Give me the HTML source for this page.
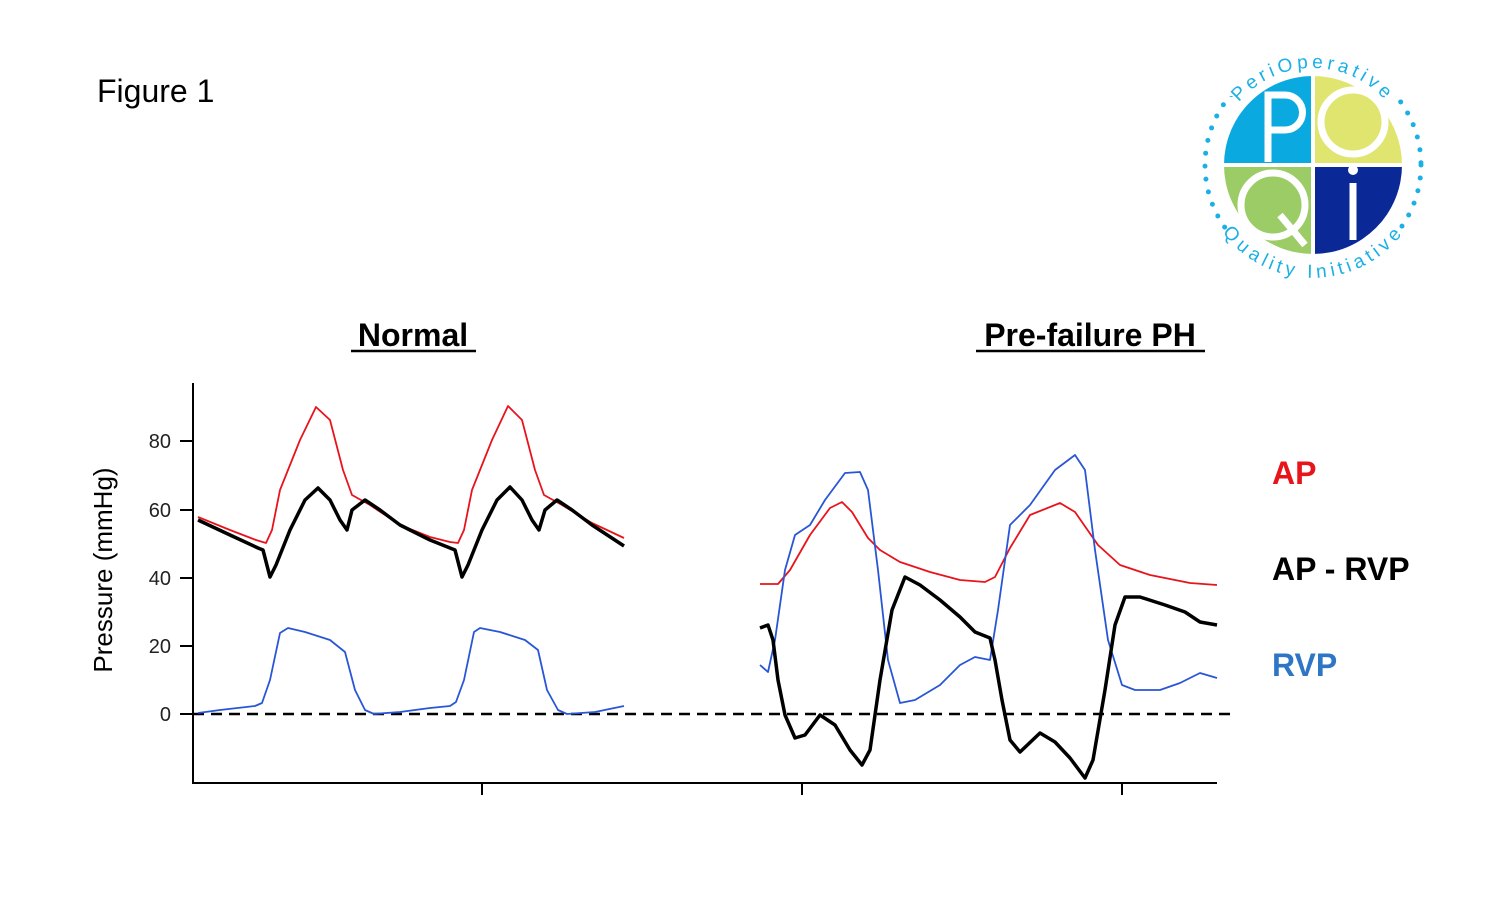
<!DOCTYPE html>
<html><head><style>
body{margin:0;background:#fff;}
svg{display:block}
</style></head><body>
<svg width="1500" height="913" viewBox="0 0 1500 913" xmlns="http://www.w3.org/2000/svg" font-family="Liberation Sans, sans-serif">
<rect width="1500" height="913" fill="#fff"/>
<text x="97" y="102" font-size="32" fill="#000">Figure 1</text>

<!-- logo -->
<g>
<defs>
<clipPath id="cc"><circle cx="1313" cy="165" r="89"/></clipPath>
<path id="arcTop" d="M1216,165 A97,97 0 0 1 1410,165"/>
<path id="arcBot" d="M1213,165 A100,100 0 0 0 1413,165"/>
</defs>
<circle cx="1313" cy="165" r="108" fill="none" stroke="#1ab0e6" stroke-width="5" stroke-dasharray="0 13" stroke-linecap="round"/>
<rect x="1195" y="40" width="240" height="56" fill="#fff"/>
<rect x="1195" y="234" width="240" height="60" fill="#fff"/>
<g clip-path="url(#cc)">
<rect x="1222" y="74" width="89" height="89" fill="#0aa9df"/>
<rect x="1315" y="74" width="89" height="89" fill="#e0e56f"/>
<rect x="1222" y="167" width="89" height="89" fill="#9ccc65"/>
<rect x="1315" y="167" width="89" height="89" fill="#0a2896"/>
</g>
<g fill="none" stroke="#fff" stroke-width="7">
<path d="M1268,162 V95 H1285 A17,17 0 0 1 1285,130 H1268"/>
<circle cx="1353" cy="122" r="32"/>
<circle cx="1273" cy="205" r="32"/>
<path d="M1280,215 L1305,245"/>
<path d="M1353,183 V240"/>
</g>
<circle cx="1353" cy="170" r="5" fill="#fff"/>
<text font-size="19" fill="#1ab0e6" letter-spacing="4"><textPath href="#arcTop" startOffset="50%" text-anchor="middle">PeriOperative</textPath></text>
<text font-size="19" fill="#1ab0e6" letter-spacing="3"><textPath href="#arcBot" startOffset="50%" text-anchor="middle" dominant-baseline="hanging">Quality Initiative</textPath></text>
</g>

<!-- titles -->
<text x="413" y="346" font-size="32" font-weight="bold" text-anchor="middle">Normal</text>
<line x1="351" y1="351" x2="476" y2="351" stroke="#000" stroke-width="2.5"/>
<text x="1090" y="346" font-size="32" font-weight="bold" text-anchor="middle">Pre-failure PH</text>
<line x1="976" y1="351" x2="1205" y2="351" stroke="#000" stroke-width="2.5"/>

<!-- legend -->
<text x="1272" y="484" font-size="32" font-weight="bold" fill="#e8141b">AP</text>
<text x="1272" y="580" font-size="32" font-weight="bold" fill="#000">AP - RVP</text>
<text x="1272" y="676" font-size="32" font-weight="bold" fill="#2e75c6">RVP</text>

<!-- axes -->
<g stroke="#000" stroke-width="2" fill="none">
<path d="M193,383 V783 H1217"/>
<path d="M482,783 V795 M802,783 V795 M1122,783 V795"/>
<path d="M180,441 H193 M180,510 H193 M180,578 H193 M180,646 H193 M180,714 H193"/>
</g>
<g font-size="20" text-anchor="end" fill="#222">
<text x="171" y="448">80</text>
<text x="171" y="517">60</text>
<text x="171" y="585">40</text>
<text x="171" y="653">20</text>
<text x="171" y="721">0</text>
</g>
<text transform="translate(112,570) rotate(-90)" font-size="26" text-anchor="middle">Pressure (mmHg)</text>
<line x1="193" y1="714" x2="1230" y2="714" stroke="#000" stroke-width="2.5" stroke-dasharray="11 7"/>

<!-- Normal -->
<polyline fill="none" stroke="#e8141b" stroke-width="1.8" stroke-linejoin="round" points="198,517 230,530 256,540 266,543 272,530 280,490 300,440 316,407 330,420 343,470 352,495 370,505 400,525 430,537 450,542 458,543 464,530 472,490 492,440 508,406 522,420 535,470 544,495 562,505 592,523 624,538"/>
<polyline fill="none" stroke="#000" stroke-width="3.5" stroke-linejoin="round" points="198,520 230,535 258,548 263,550 270,577 276,565 290,530 305,500 318,488 330,500 340,520 347,530 352,510 365,500 380,510 400,525 430,540 450,548 455,550 462,577 468,565 482,530 497,500 510,487 522,500 532,520 539,530 545,510 557,500 572,510 592,525 624,546"/>
<polyline fill="none" stroke="#2956d6" stroke-width="1.8" stroke-linejoin="round" points="198,713 220,710 255,706 262,703 270,680 280,633 288,628 305,632 330,640 345,652 355,690 365,710 374,714 400,712 430,708 450,706 456,702 464,680 474,632 480,628 500,632 525,640 538,650 547,690 558,710 567,714 595,712 624,706"/>

<!-- PH -->
<polyline fill="none" stroke="#e8141b" stroke-width="1.8" stroke-linejoin="round" points="760,584 778,584 790,570 810,535 830,508 842,502 852,512 868,538 880,550 900,562 930,572 960,580 985,582 995,577 1010,548 1030,515 1060,503 1075,512 1098,545 1120,565 1150,575 1190,583 1217,585"/>
<polyline fill="none" stroke="#2956d6" stroke-width="1.8" stroke-linejoin="round" points="760,665 768,672 775,640 785,570 795,535 810,525 825,500 845,473 860,472 868,490 878,570 888,660 900,703 915,700 940,685 960,665 975,657 990,660 998,610 1010,525 1030,505 1055,470 1075,455 1085,470 1095,550 1108,640 1122,685 1135,690 1160,690 1180,683 1200,673 1217,678"/>
<polyline fill="none" stroke="#000" stroke-width="3.5" stroke-linejoin="round" points="760,628 768,625 773,640 778,680 785,715 795,738 805,735 820,715 835,725 850,750 862,765 870,750 880,680 892,610 905,577 920,585 940,600 960,617 975,632 990,638 995,660 1002,700 1010,740 1020,752 1040,733 1055,742 1070,758 1085,778 1093,760 1105,690 1115,625 1125,597 1140,597 1165,605 1185,612 1200,622 1217,625"/>
</svg>
</body></html>
